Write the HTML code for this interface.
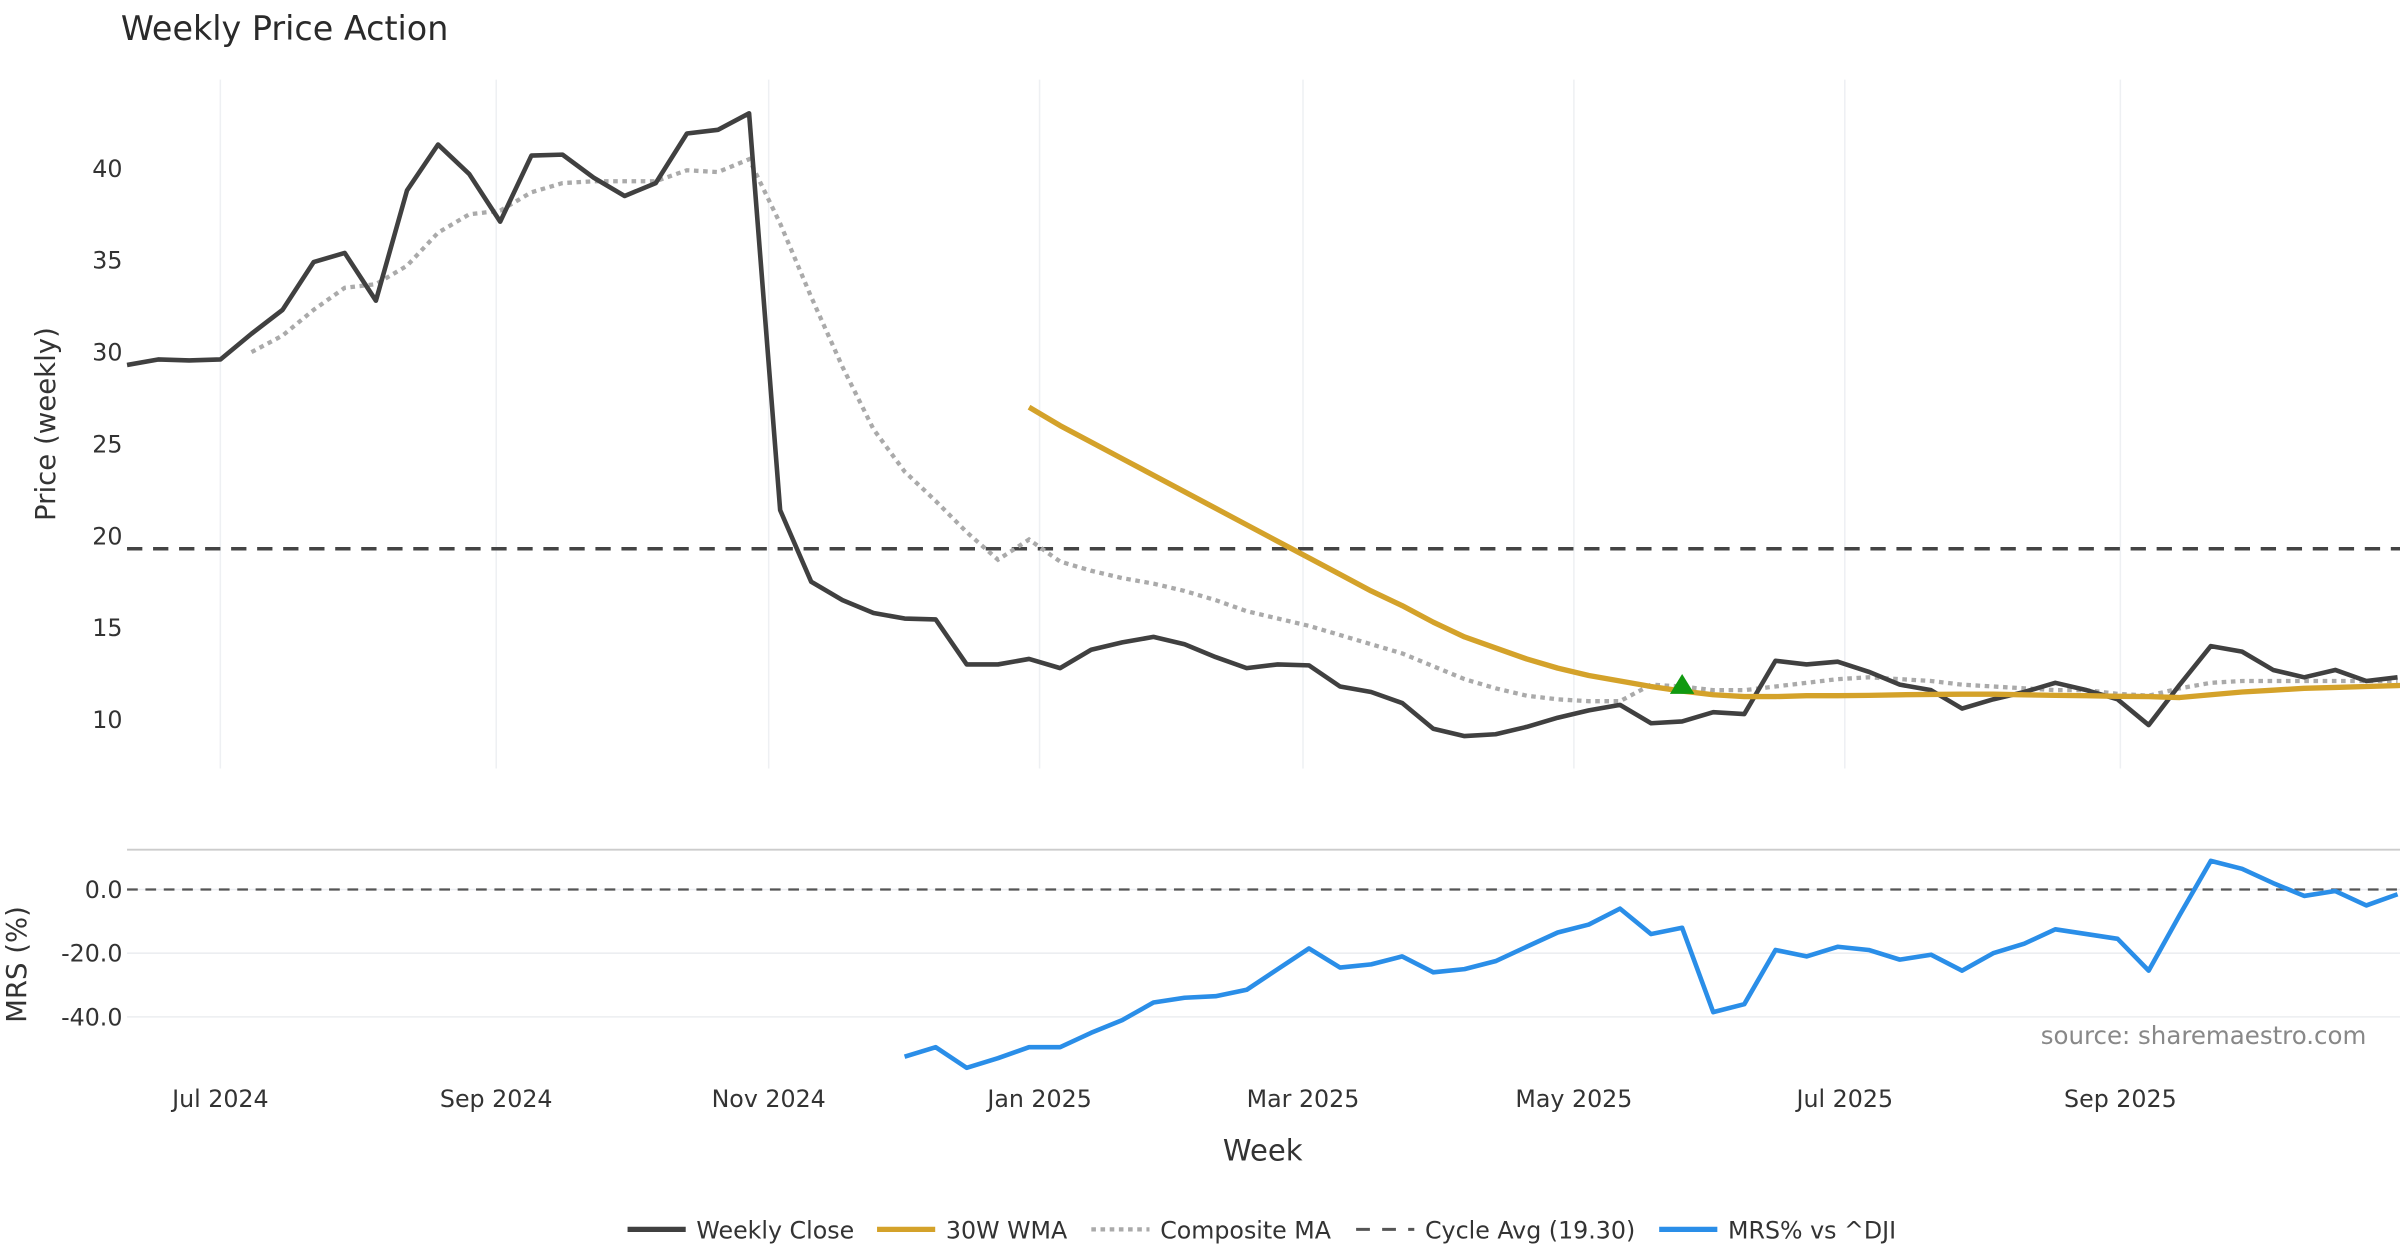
<!DOCTYPE html>
<html><head><meta charset="utf-8"><style>
html,body{margin:0;padding:0;background:#fff;}
svg{display:block;font-family:"DejaVu Sans","Liberation Sans",sans-serif;}
</style></head><body>
<svg id="chart" width="2400" height="1260" viewBox="0 0 1568 823" preserveAspectRatio="none" xmlns="http://www.w3.org/2000/svg">
<rect width="1568" height="823" fill="#fff"/>
<text x="79" y="26" font-size="21.8" fill="#2a2a2a">Weekly Price Action</text>
<g id="grid"></g>
<g id="yticks" font-size="15.5" fill="#333" text-anchor="end"></g>
<text transform="translate(36,277) rotate(-90)" text-anchor="middle" font-size="18" fill="#333">Price (weekly)</text>
<text transform="translate(17,630) rotate(-90)" text-anchor="middle" font-size="18" fill="#333">MRS (%)</text>
<line x1="83" x2="1568" y1="555" y2="555" stroke="#ccc" stroke-width="1.2"/>
<g id="series"></g>
<g id="xticks" font-size="15.5" fill="#333" text-anchor="middle"></g>
<text x="825" y="758" text-anchor="middle" font-size="19" fill="#333">Week</text>
<text x="1546" y="682" text-anchor="end" font-size="16" fill="#888">source: sharemaestro.com</text>
<g font-size="15.5" fill="#333">
 <g><line x1="410" x2="448" y1="803" y2="803" stroke="#404040" stroke-width="3.5"/><text x="455" y="809">Weekly Close</text></g>
 <g><line x1="573" x2="611" y1="803" y2="803" stroke="#D4A22A" stroke-width="3.5"/><text x="618" y="809">30W WMA</text></g>
 <g><line x1="713" x2="751" y1="803" y2="803" stroke="#aaa" stroke-width="2.8" stroke-dasharray="3,3"/><text x="758" y="809">Composite MA</text></g>
 <g><line x1="886" x2="924" y1="803" y2="803" stroke="#555" stroke-width="2" stroke-dasharray="9,8"/><text x="931" y="809">Cycle Avg (19.30)</text></g>
 <g><line x1="1084" x2="1122" y1="803" y2="803" stroke="#2A8EE8" stroke-width="3.5"/><text x="1129" y="809">MRS% vs ^DJI</text></g>
</g>
</svg>
<script>
const monthLabels=["Jul 2024","Sep 2024","Nov 2024","Jan 2025","Mar 2025","May 2025","Jul 2025","Sep 2025"];
const monthWeekPos=[3,11.87,20.63,29.34,37.81,46.52,55.23,64.09];
const priceTicks=[10,15,20,25,30,35,40];
const mrsTicks=[0,-20,-40];
const cycleAvg=19.30;
const closeVals=[29.3,29.6,29.55,29.6,31.0,32.3,34.9,35.4,32.8,38.8,41.3,39.7,37.1,40.7,40.75,39.5,38.5,39.2,41.9,42.1,43.0,21.4,17.5,16.5,15.8,15.5,15.45,13.0,13.0,13.3,12.8,13.8,14.2,14.5,14.1,13.4,12.8,13.0,12.95,11.8,11.5,10.9,9.5,9.1,9.2,9.6,10.1,10.5,10.8,9.8,9.9,10.4,10.3,13.2,13.0,13.15,12.6,11.9,11.6,10.6,11.1,11.5,12.0,11.6,11.1,9.7,11.9,14.0,13.7,12.7,12.3,12.7,12.1,12.3];
const compStart=4;
const compVals=[30.0,30.9,32.3,33.5,33.7,34.7,36.5,37.5,37.7,38.7,39.2,39.3,39.3,39.3,39.9,39.8,40.5,37.0,33.0,29.2,25.8,23.5,21.9,20.2,18.7,19.8,18.6,18.1,17.7,17.4,17.0,16.5,15.9,15.5,15.1,14.6,14.1,13.6,12.9,12.2,11.7,11.3,11.1,11.0,11.0,11.9,11.8,11.6,11.6,11.8,12.0,12.2,12.3,12.2,12.1,11.9,11.8,11.7,11.6,11.6,11.4,11.3,11.7,12.0,12.1,12.1,12.1,12.1,12.1,12.1];
const wmaStart=29;
const wmaVals=[27.0,26.0,25.1,24.2,23.3,22.4,21.5,20.6,19.7,18.8,17.9,17.0,16.2,15.3,14.5,13.9,13.3,12.8,12.4,12.1,11.8,11.55,11.35,11.25,11.25,11.3,11.3,11.32,11.35,11.37,11.38,11.38,11.35,11.32,11.3,11.27,11.25,11.2,11.35,11.5,11.6,11.7,11.75,11.8,11.85,11.9];
const mrsStart=25;
const mrsVals=[-52.5,-49.5,-56,-53,-49.5,-49.5,-45,-41,-35.5,-34,-33.5,-31.5,-25,-18.5,-24.5,-23.5,-21,-26,-25,-22.5,-18,-13.5,-11,-6,-14,-12,-38.5,-36,-19,-21,-18,-19,-22,-20.5,-25.5,-20,-17,-12.5,-14,-15.5,-25.5,-8,9,6.5,2,-2,-0.5,-5,-1.5];
const signalWeek=50, signalVal=11.9;

const NS="http://www.w3.org/2000/svg";
const xS=i=>83+i*20.32;
const yP=v=>470-(v-10)*12;
const yM=v=>581-v*2.08;
function mk(tag,attrs,parent){const e=document.createElementNS(NS,tag);for(const k in attrs)e.setAttribute(k,attrs[k]);parent.appendChild(e);return e;}
const grid=document.getElementById('grid'),yt=document.getElementById('yticks'),xt=document.getElementById('xticks'),ser=document.getElementById('series');
monthWeekPos.forEach((w,k)=>{
 const g=mk('line',{x1:xS(w),x2:xS(w),y1:52,y2:502,stroke:'#eef0f3','stroke-width':1},grid);
 
 
 const t=mk('text',{x:xS(w),y:723},xt);t.textContent=monthLabels[k];
 
 
});
priceTicks.forEach(v=>{const t=mk('text',{x:80,y:yP(v)+5.5},yt);t.textContent=v;
 
 });
mrsTicks.forEach(v=>{
 const g=mk('line',{x1:83,x2:1568,y1:yM(v),y2:yM(v),stroke:'#eceef1','stroke-width':1},grid);
 
 
 const t=mk('text',{x:80,y:yM(v)+5.5},yt);t.textContent=v.toFixed(1);
 
 });
function path(vals,start,yf){return vals.map((v,i)=>(i?'L':'M')+xS(start+i).toFixed(1)+','+yf(v).toFixed(1)).join('');}
const cyc=mk('line',{x1:83,x2:1568,y1:yP(cycleAvg),y2:yP(cycleAvg),stroke:'#444','stroke-width':2.3,'stroke-dasharray':'10,7'},ser);


const z=mk('line',{x1:83,x2:1568,y1:yM(0),y2:yM(0),stroke:'#555','stroke-width':1.5,'stroke-dasharray':'7,5'},ser);


const cm=mk('path',{d:path(compVals,compStart,yP),fill:'none',stroke:'#aaa','stroke-width':2.8,'stroke-dasharray':'3,3'},ser);


const cl=mk('path',{d:path(closeVals,0,yP),fill:'none',stroke:'#404040','stroke-width':3,'stroke-linejoin':'round'},ser);


const wm=mk('path',{d:path(wmaVals,wmaStart,yP),fill:'none',stroke:'#D4A22A','stroke-width':3.5,'stroke-linejoin':'round'},ser);


const sx=xS(signalWeek),sy=yP(signalVal);
const tri=mk('path',{d:`M${sx-8},${sy+6}L${sx+8},${sy+6}L${sx},${sy-7}Z`,fill:'#109910'},ser);


const mr=mk('path',{d:path(mrsVals,mrsStart,yM),fill:'none',stroke:'#2A8EE8','stroke-width':3,'stroke-linejoin':'round'},ser);


</script>
</body></html>
